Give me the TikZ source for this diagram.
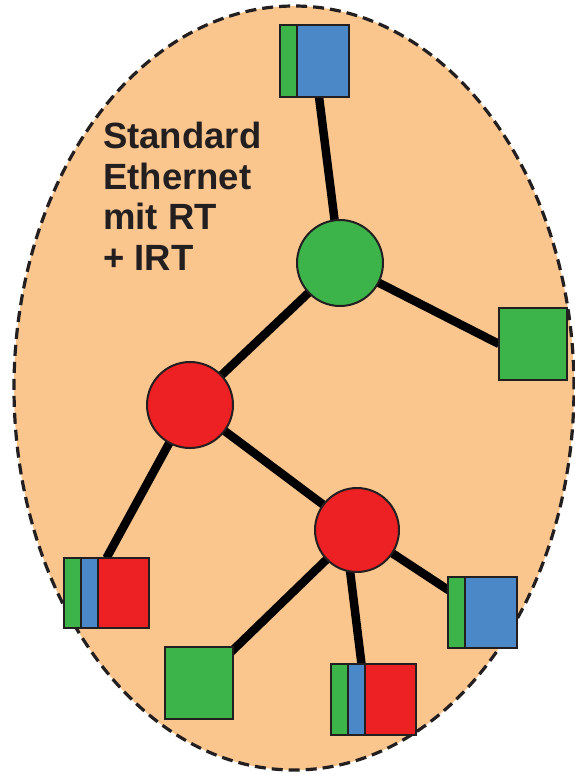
\documentclass[tikz,border=0pt]{standalone}
\usepackage{fontspec}
\setmainfont{Liberation Sans}
\usetikzlibrary{backgrounds}

\definecolor{peach}{RGB}{250,198,142}
\definecolor{devgreen}{RGB}{61,180,74}
\definecolor{devblue}{RGB}{74,136,200}
\definecolor{devred}{RGB}{237,32,36}
\definecolor{edgec}{RGB}{35,31,32}

\tikzset{
  box/.style 2 args={draw=edgec, line width=2pt, inner sep=0pt, outer sep=0pt,
    minimum width=#1, minimum height=#2},
  plain/.style={fill=devgreen},
  % green stripe + blue body
  gb/.style={fill=devblue,
    path picture={
      \fill[devgreen] (path picture bounding box.north west) rectangle
        ([xshift=17pt]path picture bounding box.south west);
      \draw[edgec, line width=2pt] ([xshift=17pt]path picture bounding box.north west)
        -- ([xshift=17pt]path picture bounding box.south west);
    }},
  % green + blue stripes + red body
  gbr/.style={fill=devred,
    path picture={
      \fill[devgreen] (path picture bounding box.north west) rectangle
        ([xshift=17pt]path picture bounding box.south west);
      \fill[devblue] ([xshift=17pt]path picture bounding box.north west) rectangle
        ([xshift=34pt]path picture bounding box.south west);
      \draw[edgec, line width=2pt] ([xshift=17pt]path picture bounding box.north west)
        -- ([xshift=17pt]path picture bounding box.south west);
      \draw[edgec, line width=2pt] ([xshift=34pt]path picture bounding box.north west)
        -- ([xshift=34pt]path picture bounding box.south west);
    }},
  sw/.style={circle, draw=edgec, line width=2pt, inner sep=0pt, minimum size=#1},
  link/.style={line width=8.5pt, black},
}

\begin{document}
\begin{tikzpicture}[x=1pt, y=-1pt]
  \useasboundingbox (0,0) rectangle (575,774);

  % switches
  \node[sw=86pt, fill=devgreen] (hub) at (340,263) {};
  \node[sw=86pt, fill=devred]   (r1)  at (190,405) {};
  \node[sw=84pt, fill=devred]   (r2)  at (357,530) {};

  % end devices
  \node[box={69pt}{72pt}, gb]    (top) at (314.5,61)   {};
  \node[box={68pt}{72pt}, plain] (rg)  at (533,344)    {};
  \node[box={85pt}{70pt}, gbr]   (bl)  at (106.5,593)  {};
  \node[box={68pt}{72pt}, plain] (bg)  at (199,683)    {};
  \node[box={85pt}{71pt}, gbr]   (bm)  at (373.5,699.5){};
  \node[box={69pt}{71pt}, gb]    (rb)  at (482.5,612.5){};

  % network domain and cabling underneath
  \begin{scope}[on background layer]
    \fill[peach] (294,388) ellipse [x radius=280pt, y radius=382pt];
    \draw[edgec, line width=3.2pt, dash pattern=on 11pt off 6pt]
      (294,388) ellipse [x radius=280pt, y radius=382pt];

    \draw[link] (top.center) -- (hub.center);
    \draw[link] (hub.center) -- (rg.west);
    \draw[link] (hub.center) -- (r1.center);
    \draw[link] (r1.center) -- (bl.north);
    \draw[link] (r1.center) -- (r2.center);
    \draw[link] (r2.center) -- (bg.center);
    \draw[link] ([xshift=-12pt]r2.center) -- ([xshift=-12pt]bm.north);
    \draw[link] (r2.center) -- (rb.center);
  \end{scope}

  \node[anchor=north west, inner sep=0pt, align=left, text=edgec,
        font=\bfseries\fontsize{36.5}{40.5}\selectfont] (lbl) at (103,122)
    {Standard\\Ethernet\\mit RT\\+ IRT};
\end{tikzpicture}
\end{document}
